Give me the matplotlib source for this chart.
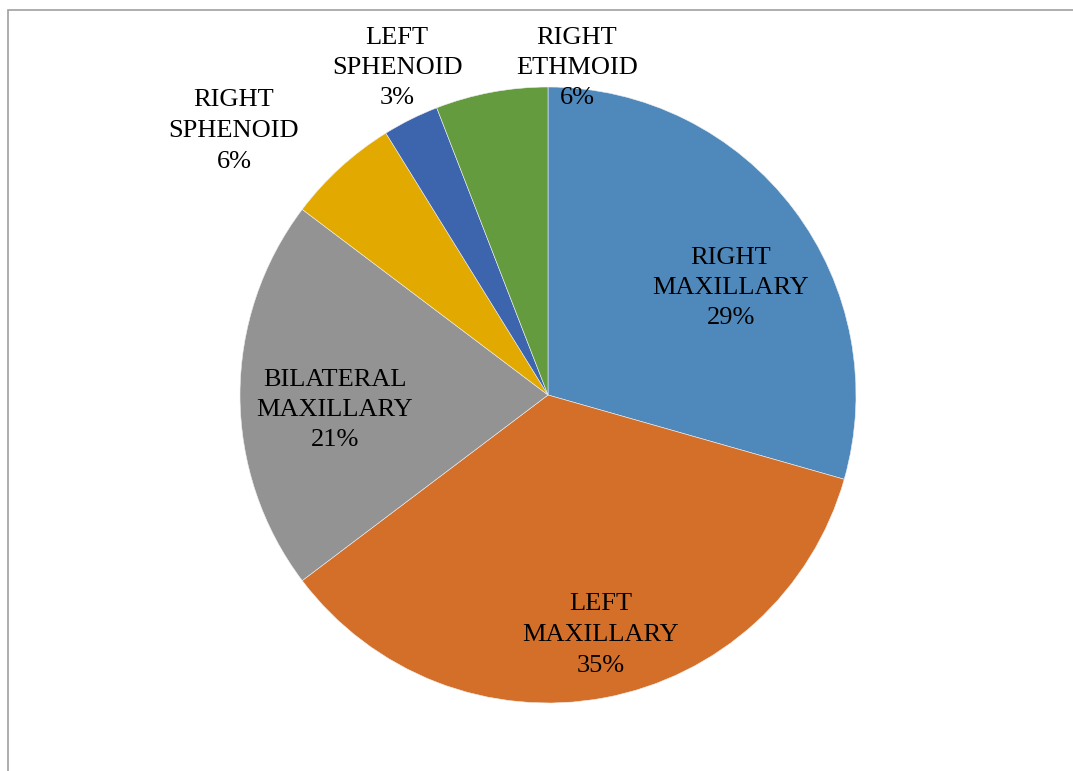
import matplotlib.pyplot as plt
from matplotlib.patches import Rectangle

# case counts per sinus (n = 34)
sinuses = ['RIGHT\nMAXILLARY', 'LEFT\nMAXILLARY', 'BILATERAL\nMAXILLARY',
           'RIGHT\nSPHENOID', 'LEFT\nSPHENOID', 'RIGHT\nETHMOID']
counts = [10, 12, 7, 2, 1, 2]
colors = ['#4F89BC', '#D46F2A', '#939393', '#E2AA00', '#3D65AD', '#649B3F']

# label anchor points in pixels (x, y from top)
label_pos = [(731, 288), (601, 635), (335, 410), (234, 131), (397, 68), (577, 68)]

W, H = 1073, 771
fig = plt.figure(figsize=(W / 100, H / 100), dpi=100)
ax = fig.add_axes([0, 0, 1, 1])

cx, cy, r = 548, H - 395, 308
ax.pie(counts, colors=colors, startangle=90, counterclock=False,
       center=(cx, cy), radius=r, frame=True,
       wedgeprops=dict(edgecolor='#f0f0f0', linewidth=0.4))
ax.set_xlim(0, W)
ax.set_ylim(0, H)
ax.set_aspect('equal')
ax.axis('off')

total = sum(counts)
for name, c, (px, py) in zip(sinuses, counts, label_pos):
    pct = round(100 * c / total)
    ax.text(px, H - py, f'{name}\n{pct}%', ha='center', va='center',
            fontsize=19, family='Liberation Serif', color='black',
            linespacing=1.5)

# chart border (right and bottom edges fall outside the image)
fig.patches.append(Rectangle((8 / W, -0.05), 1.1, 1 - 10 / H + 0.05,
                             transform=fig.transFigure, fill=False,
                             edgecolor='#A0A0A0', linewidth=1.2))

fig.savefig('out.png', dpi=100)
